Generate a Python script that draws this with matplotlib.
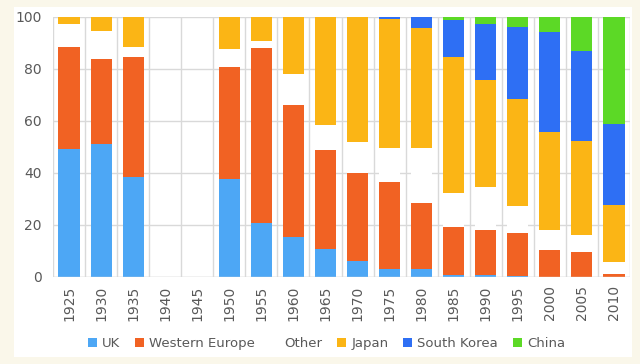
import matplotlib.pyplot as plt
import numpy as np

years = ['1925', '1930', '1935', '1940', '1945', '1950', '1955', '1960', '1965',
         '1970', '1975', '1980', '1985', '1990', '1995', '2000', '2005', '2010']
uk = [49.2, 51.2, 38.3, 0, 0, 37.6, 20.9, 15.4, 10.9, 6.2, 3.2, 3.2, 0.9, 0.7, 0.3, 0, 0, 0]
western_europe = [39.4, 32.5, 46.4, 0, 0, 43.0, 67.2, 50.6, 38.1, 33.7, 33.3, 25.4, 18.2, 17.5, 16.7, 10.5, 9.7, 1.3]
other = [8.7, 10.9, 3.9, 0, 0, 7.2, 2.8, 12.1, 9.3, 12.0, 13.0, 20.9, 13.2, 16.3, 10.3, 7.7, 6.3, 4.5]
japan = [2.7, 5.4, 11.4, 0, 0, 12.2, 9.1, 21.9, 41.7, 48.1, 49.6, 46.3, 52.2, 41.3, 41.2, 37.7, 36.4, 21.8]
south_korea = [0, 0, 0, 0, 0, 0, 0, 0, 0, 0, 0.9, 4.2, 14.3, 21.5, 27.8, 38.4, 34.5, 31.1]
china = [0, 0, 0, 0, 0, 0, 0, 0, 0, 0, 0, 0, 1.2, 2.7, 3.7, 5.7, 13.1, 41.3]

series = [('UK', uk, '#4da7f5'),
          ('Western Europe', western_europe, '#f16223'),
          ('Other', other, '#ffffff'),
          ('Japan', japan, '#fbb515'),
          ('South Korea', south_korea, '#2e6ff4'),
          ('China', china, '#5cd926')]

fig = plt.figure(figsize=(6.4, 3.64), dpi=100)
fig.patch.set_facecolor('#faf7ea')
# white panel behind the chart
fig.add_artist(plt.Rectangle((14 / 640, 1 - 357 / 364), 618 / 640, 350 / 364,
                             transform=fig.transFigure, facecolor='white',
                             edgecolor='none', zorder=0))

ax = fig.add_axes([53 / 640, 1 - 277 / 364, 577 / 640, 260 / 364])
ax.set_facecolor('white')

x = np.arange(len(years))
bottom = np.zeros(len(years))
for name, vals, col in series:
    vals = np.array(vals)
    ax.bar(x, vals, 0.66, bottom=bottom, color=col, label=name, zorder=3)
    bottom += vals

ax.set_xlim(-0.5, len(years) - 0.5)
ax.set_ylim(0, 100)
ax.set_yticks(range(0, 101, 20))
ax.set_xticks(x)
ax.set_xticklabels(years, rotation=90)
ax.set_xticks(np.arange(-0.5, len(years), 1), minor=True)
ax.grid(axis='y', color='#d9d9d9', linewidth=1, zorder=0)
ax.grid(axis='x', which='minor', color='#d9d9d9', linewidth=1, zorder=0)
ax.tick_params(axis='both', which='both', length=0, labelsize=10, labelcolor='#595959')
ax.tick_params(axis='x', pad=6)
ax.tick_params(axis='y', pad=8)
for s in ax.spines.values():
    s.set_visible(False)
ax.axhline(0, color='#d9d9d9', linewidth=1, zorder=4)

leg = fig.legend(loc='lower center', bbox_to_anchor=(0.51, 0.005), ncol=6, frameon=False,
                 fontsize=9.5, handlelength=0.7, handleheight=0.7, handletextpad=0.4,
                 columnspacing=1.1)
for t in leg.get_texts():
    t.set_color('#595959')

fig.savefig('out.png', dpi=100, facecolor=fig.get_facecolor())
